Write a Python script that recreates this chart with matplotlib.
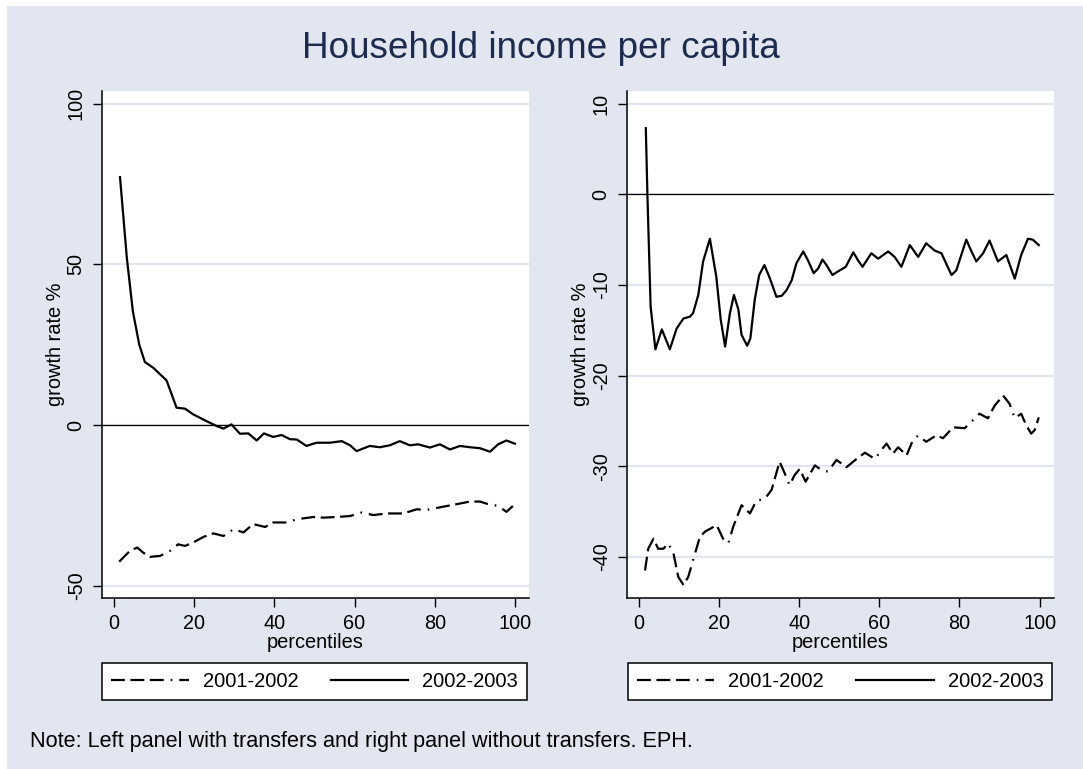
#!/usr/bin/env python3

import matplotlib
matplotlib.use('Agg')
import matplotlib.pyplot as plt
from matplotlib.patches import Rectangle

plt.rcParams['font.family'] = ['Liberation Sans', 'DejaVu Sans']
plt.rcParams['lines.scale_dashes'] = False

# left panel: with transfers
left_x_0203 = [1.5, 3.2, 4.7, 6.3, 7.7, 9.8, 13.1, 14.4, 15.6, 17.7, 19.8, 23.1, 25.6, 27.3, 29.3,
               31.4, 33.5, 35.6, 37.4, 39.7, 41.8, 43.9, 45.6, 48.0, 50.5, 53.9, 56.8, 58.9, 60.5,
               63.8, 66.3, 68.8, 71.3, 73.8, 75.9, 78.8, 81.3, 83.8, 86.3, 88.8, 91.3, 93.8, 95.8,
               97.9, 100]
left_y_0203 = [77.1, 52, 35.4, 25, 19.6, 17.8, 13.9, 9.5, 5.4, 5.1, 3.3, 1.2, -0.3, -1.1, 0.2,
               -2.7, -2.6, -4.8, -2.6, -3.7, -3.1, -4.4, -4.5, -6.5, -5.5, -5.5, -5.0, -6.3, -8.1,
               -6.5, -6.9, -6.3, -5.0, -6.3, -6.0, -7.0, -6.0, -7.6, -6.5, -6.9, -7.2, -8.3, -6.0,
               -4.8, -5.8]
left_x_0102 = [1.3, 4.0, 5.8, 7.3, 9.0, 11.5, 14.0, 16.0, 17.7, 19.8, 22.3, 24.8, 27.3, 29.8, 32.3,
               34.7, 37.7, 39.7, 43.1, 45.6, 49.7, 52.2, 55.5, 58.9, 61.8, 64.7, 68.0, 72.2, 75.5,
               78.0, 82.1, 85.5, 88.8, 91.3, 93.8, 95.8, 97.9, 100]
left_y_0102 = [-42.5, -39.1, -38.1, -39.7, -41.0, -40.7, -39.1, -37.1, -37.6, -36.5, -34.8, -33.7,
               -34.5, -32.4, -33.4, -30.8, -31.7, -30.3, -30.3, -29.3, -28.6, -28.8, -28.6, -28.3,
               -27.2, -28.0, -27.5, -27.5, -26.2, -26.4, -25.4, -24.6, -23.8, -23.8, -24.8, -25.1,
               -27.0, -24.6]

# right panel: without transfers
right_x_0203 = [1.7, 2.1, 2.9, 4.1, 5.7, 7.7, 9.4, 11.1, 12.7, 13.5, 14.8, 16.0, 17.7, 19.3, 20.4,
                21.5, 22.7, 23.7, 24.8, 25.6, 27.0, 27.8, 28.9, 30.0, 31.3, 32.7, 34.3, 35.6, 36.8,
                38.1, 39.3, 41.0, 42.2, 43.6, 44.7, 45.8, 46.8, 48.3, 49.7, 51.6, 53.5, 54.7, 55.8,
                58.0, 59.7, 62.2, 63.8, 65.5, 67.6, 69.7, 71.7, 73.8, 75.5, 78.0, 79.2, 81.7, 82.9,
                84.2, 85.9, 87.5, 89.6, 91.7, 93.8, 95.4, 97.1, 98.3, 99.8]
right_y_0203 = [7.3, 0.0, -12.4, -17.1, -14.9, -17.1, -14.8, -13.7, -13.5, -13.1, -11.1, -7.4, -4.9,
                -9.1, -13.8, -16.8, -13.1, -11.1, -12.7, -15.5, -16.7, -15.9, -11.6, -8.9, -7.8,
                -9.3, -11.3, -11.2, -10.6, -9.5, -7.6, -6.3, -7.3, -8.7, -8.2, -7.2, -7.8, -8.9,
                -8.5, -8.0, -6.4, -7.3, -8.0, -6.5, -7.1, -6.3, -6.9, -8.0, -5.6, -6.9, -5.4, -6.2,
                -6.5, -8.9, -8.4, -5.0, -6.2, -7.4, -6.5, -5.1, -7.4, -6.7, -9.3, -6.7, -4.9, -5.0,
                -5.6]
right_x_0102 = [1.5, 2.3, 3.6, 4.8, 6.1, 7.3, 8.6, 9.8, 11.1, 12.3, 14.0, 15.2, 16.5, 19.4, 21.0,
                22.3, 23.5, 25.6, 27.7, 29.3, 31.4, 33.1, 35.1, 36.4, 37.6, 38.8, 40.1, 41.6, 43.9,
                45.5, 47.2, 49.3, 51.8, 54.3, 56.4, 58.9, 60.5, 61.8, 63.4, 64.7, 66.8, 68.4, 69.7,
                71.7, 74.2, 75.9, 78.4, 81.3, 83.4, 85.0, 87.1, 88.8, 90.9, 92.5, 93.8, 95.4, 96.7,
                97.9, 98.8, 99.8]
right_y_0102 = [-41.5, -39.1, -38.0, -39.1, -39.1, -38.5, -39.6, -42.2, -43.1, -42.2, -39.6, -37.8,
                -37.2, -36.5, -38.0, -38.5, -36.7, -34.3, -35.2, -33.8, -33.6, -32.6, -29.5, -30.8,
                -32.1, -31.0, -30.3, -31.7, -29.9, -30.4, -30.6, -29.3, -30.1, -29.2, -28.5, -29.2,
                -28.2, -27.5, -28.6, -27.9, -28.8, -27.1, -26.6, -27.3, -26.6, -26.9, -25.7, -25.8,
                -24.9, -24.2, -24.7, -23.3, -22.2, -23.1, -24.7, -24.2, -25.5, -26.4, -26.0, -24.6]

series_labels = ['2001-2002', '2002-2003']
left_yticks = [100, 50, 0, -50]
right_yticks = [10, 0, -10, -20, -30, -40]
xticks = [0, 20, 40, 60, 80, 100]

bg = '#E1E6F0'
navy = '#1C2B4E'
dash_style = (0, (10, 4, 10, 4, 10, 5, 1.2, 5))

W, H = 1083, 769
fig = plt.figure(figsize=(W / 100, H / 100), dpi=100, facecolor='white')
fig.patches.append(Rectangle((7 / W, 0), 1 - 7 / W, 1 - 6 / H, transform=fig.transFigure,
                             facecolor=bg, edgecolor='none', zorder=-10))

panels = [
    {'rect': [101.7 / W, 1 - 597.7 / H, 427.6 / W, 506.7 / H],
     'ylim': (-53.7, 103.9), 'yticks': left_yticks,
     'x0102': left_x_0102, 'y0102': left_y_0102,
     'x0203': left_x_0203, 'y0203': left_y_0203,
     'legend_x': 314.7 / W},
    {'rect': [626.7 / W, 1 - 597.7 / H, 427.3 / W, 506.7 / H],
     'ylim': (-44.5, 11.4), 'yticks': right_yticks,
     'x0102': right_x_0102, 'y0102': right_y_0102,
     'x0203': right_x_0203, 'y0203': right_y_0203,
     'legend_x': 840 / W},
]

for p in panels:
    ax = fig.add_axes(p['rect'])
    ax.set_facecolor('white')
    for s in ['top', 'right']:
        ax.spines[s].set_visible(False)
    for s in ['left', 'bottom']:
        ax.spines[s].set_linewidth(1.1)
        ax.spines[s].set_color('black')

    ax.set_xlim(-3.07, 103.6)
    ax.set_ylim(*p['ylim'])
    ax.set_xticks(xticks)
    ax.set_yticks(p['yticks'])
    ax.set_yticklabels([str(t) for t in p['yticks']], rotation=90, va='center')
    ax.tick_params(axis='both', direction='out', length=6.5, width=1.0, pad=5,
                   labelsize=14.3, colors='black')
    ax.grid(axis='y', color=bg, linewidth=1.6)
    ax.set_axisbelow(True)
    ax.axhline(0, color='black', linewidth=0.9, zorder=2)

    l1, = ax.plot(p['x0102'], p['y0102'], color='black', linewidth=1.6,
                  linestyle=dash_style, label=series_labels[0], zorder=3)
    l2, = ax.plot(p['x0203'], p['y0203'], color='black', linewidth=1.6,
                  label=series_labels[1], zorder=3)

    ax.set_xlabel('percentiles', fontsize=14.4, labelpad=0)
    ax.set_ylabel('growth rate %', fontsize=14.4, labelpad=1)

    leg = ax.legend(handles=[l1, l2], loc='upper center', ncol=2,
                    bbox_to_anchor=(p['legend_x'], 1 - 662.7 / H), bbox_transform=fig.transFigure,
                    fontsize=14.5, frameon=True, fancybox=False, edgecolor='black',
                    handlelength=3.85, handletextpad=0.7, columnspacing=1.6,
                    borderpad=0.45, borderaxespad=0)
    leg.get_frame().set_linewidth(1.1)
    leg.get_frame().set_facecolor('white')
    leg.get_frame().set_alpha(1)

fig.text(541 / W, 1 - 58.3 / H, 'Household income per capita', ha='center', va='baseline',
         fontsize=26.6, color=navy)
fig.text(30 / W, 1 - 747.3 / H, 'Note: Left panel with transfers and right panel without transfers. EPH.',
         ha='left', va='baseline', fontsize=15.6, color='black')

plt.savefig('out.png', dpi=100, facecolor=fig.get_facecolor())
plt.close()
